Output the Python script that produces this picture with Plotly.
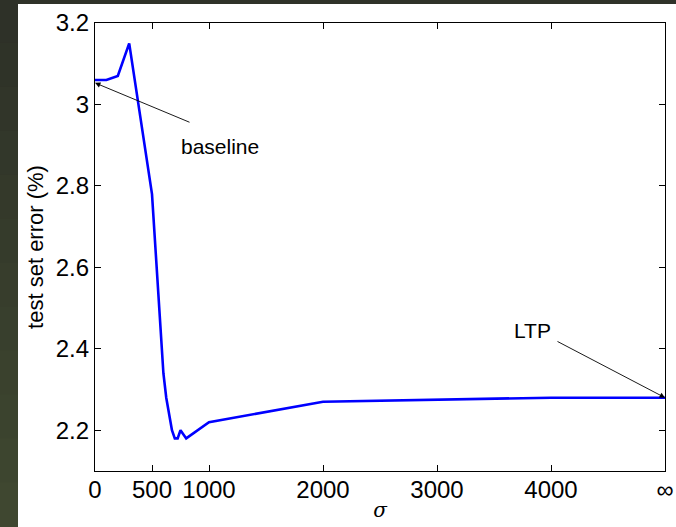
import plotly.graph_objects as go

# Data (sigma values; 5000 stands for infinity / LTP)
sigma = [0, 100, 200, 300, 500, 600, 625, 650, 675, 700, 725, 750, 775, 800, 1000, 2000, 4000, 5000]
error = [3.06, 3.06, 3.07, 3.15, 2.78, 2.34, 2.28, 2.24, 2.20, 2.18, 2.18, 2.20, 2.19, 2.18, 2.22, 2.27, 2.28, 2.28]

x_tickvals = [0, 500, 1000, 2000, 3000, 4000, 5000]
x_ticktext = ["0", "500", "1000", "2000", "3000", "4000", "∞"]
y_tickvals = [2.2, 2.4, 2.6, 2.8, 3.0, 3.2]
y_ticktext = ["2.2", "2.4", "2.6", "2.8", "3", "3.2"]

FONT = "Liberation Sans, Arial, Helvetica, sans-serif"

fig = go.Figure()
fig.add_trace(go.Scatter(x=sigma, y=error, mode="lines",
                         line=dict(color="#0000ff", width=2.6), showlegend=False,
                         hoverinfo="skip"))

# background: dark frame on left/top, white page
shapes = []
W, H = 676, 527
L, R, T, B = 95, 11, 23, 56
pw, ph = W - L - R, H - T - B
def px_x(px):
    return (px - L) / pw
def px_y(py):
    return (H - B - py) / ph
n = 12
c0 = (0x2e, 0x31, 0x28)
c1 = (0x3f, 0x47, 0x30)
for i in range(n):
    f = i / (n - 1)
    col = "rgb(%d,%d,%d)" % tuple(int(c0[k] + (c1[k] - c0[k]) * f) for k in range(3))
    shapes.append(dict(type="rect", xref="paper", yref="paper", layer="below",
                       x0=px_x(-2), x1=px_x(18), y0=px_y(H * (i + 1) / n + 1), y1=px_y(H * i / n - 1),
                       fillcolor=col, line=dict(width=0)))
shapes.append(dict(type="rect", xref="paper", yref="paper", layer="below",
                   x0=px_x(17), x1=px_x(W + 2), y0=px_y(4), y1=px_y(-2),
                   fillcolor="#2f3229", line=dict(width=0)))
shapes.append(dict(type="rect", xref="paper", yref="paper", layer="below",
                   x0=px_x(18), x1=px_x(W + 2), y0=px_y(H + 2), y1=px_y(4),
                   fillcolor="white", line=dict(width=0)))

fig.update_layout(
    width=W, height=H,
    margin=dict(l=L, r=R, t=T, b=B, pad=0, autoexpand=False),
    paper_bgcolor="#353a2c",
    plot_bgcolor="rgba(0,0,0,0)",
    font=dict(family=FONT, color="black"),
    shapes=shapes,
    xaxis=dict(range=[0, 5000], tickvals=x_tickvals, ticktext=x_ticktext,
               ticks="inside", ticklen=6, tickwidth=1, tickcolor="black",
               showline=True, linecolor="black", linewidth=1.3, mirror="ticks",
               showgrid=False, zeroline=False, tickfont=dict(size=24, family=FONT),
               ticklabelstandoff=-3,
               title=dict(text="<i>σ</i>", font=dict(size=20, family="DejaVu Serif, serif"), standoff=1)),
    yaxis=dict(range=[2.1, 3.2], tickvals=y_tickvals, ticktext=y_ticktext,
               ticks="inside", ticklen=6, tickwidth=1, tickcolor="black",
               showline=True, linecolor="black", linewidth=1.3, mirror="ticks",
               showgrid=False, zeroline=False, tickfont=dict(size=24, family=FONT),
               ticklabelstandoff=0,
               title=dict(text="test set error (%)", font=dict(size=22, family=FONT), standoff=5)),
    annotations=[
        dict(x=0, y=3.053, xref="x", yref="y", text="", showarrow=True,
             ax=96, ay=40, arrowhead=2, arrowsize=1.2, arrowwidth=0.9, arrowcolor="black"),
        dict(x=1096, y=2.896, xref="x", yref="y", text="baseline", showarrow=False,
             font=dict(size=21, family=FONT)),
        dict(x=5000, y=2.28, xref="x", yref="y", text="", showarrow=True,
             ax=-109, ay=-57, arrowhead=2, arrowsize=1.2, arrowwidth=0.9, arrowcolor="black"),
        dict(x=3842, y=2.446, xref="x", yref="y", text="LTP", showarrow=False,
             font=dict(size=21, family=FONT)),
    ],
)

fig.write_html("out.html", config={"displayModeBar": False},
               post_script="document.body.style.margin='0px';document.body.style.overflow='hidden';")
